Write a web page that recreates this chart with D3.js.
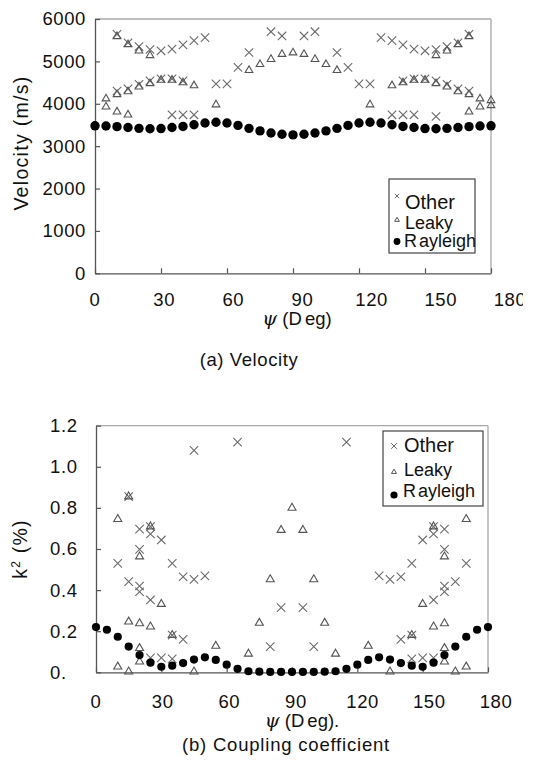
<!DOCTYPE html>
<html><head><meta charset="utf-8">
<script src="https://cdn.jsdelivr.net/npm/d3@7"></script>
<style>
body{margin:0;background:#fff;}
svg text{font-family:"Liberation Sans",Arial,sans-serif;fill:#111;}
</style></head><body>
<svg id="c" width="536" height="768"></svg>
<script>
// ---------- data ----------
const angles = [0,5,10,15,20,25,30,35,40,45,50,55,60,65,70,75,80,85,90,95,100,105,110,115,120,125,130,135,140,145,150,155,160,165,170,175,180];
const xTickValues = [0,30,60,90,120,150,180];
const velTicks = [0,1000,2000,3000,4000,5000,6000];
const k2Ticks = [0,0.2,0.4,0.6,0.8,1.0,1.2];

// (a) velocity, m/s
const velRayleigh = [3480,3475,3460,3440,3420,3410,3415,3440,3465,3505,3545,3565,3545,3490,3420,3360,3310,3280,3265,3280,3310,3360,3420,3490,3545,3565,3545,3505,3465,3440,3415,3410,3420,3440,3460,3475,3480];
const velOther = [
 [10,5640],[15,5440],[20,5350],[25,5280],[30,5250],[35,5290],[40,5390],[45,5490],[50,5560],
 [10,4300],[15,4350],[20,4460],[25,4540],[30,4590],[35,4590],[40,4540],
 [35,3740],[40,3740],[45,3740],
 [55,4470],[60,4470],[65,4860],[70,5210],[80,5700],[85,5600],
 [95,5600],[100,5700],[110,5210],[115,4860],[120,4470],[125,4470],
 [130,5560],[135,5490],[140,5390],[145,5290],[150,5250],[155,5280],[160,5350],[165,5440],[170,5640],
 [140,4540],[145,4590],[150,4590],[155,4540],[160,4460],[165,4350],[170,4300],
 [135,3740],[140,3740],[145,3740],[155,3700]
];
const velLeaky = [
 [5,4120],[5,3930],[10,5590],[10,4220],[10,3810],[15,5400],[15,4290],[15,3740],[20,5250],[20,4400],
 [25,5140],[25,4480],[30,4560],[35,4560],[40,4500],[45,4430],[55,3980],
 [70,4790],[75,4930],[80,5050],[85,5170],[90,5205],[95,5170],[100,5050],[105,4930],[110,4790],
 [125,3980],[135,4430],[140,4500],[145,4560],[150,4560],[155,4480],[155,5140],[160,4400],[160,5250],
 [165,4290],[165,5400],[170,4220],[170,5590],[170,3810],[175,4120],[175,3930],[180,4080],[180,3960]
];

// (b) coupling coefficient k^2, %
const k2Rayleigh = [0.220,0.207,0.173,0.125,0.084,0.047,0.027,0.032,0.045,0.062,0.073,0.060,0.037,0.017,0.005,0.003,0.002,0.002,0.002,0.002,0.002,0.003,0.005,0.017,0.037,0.060,0.073,0.062,0.045,0.032,0.027,0.047,0.084,0.125,0.173,0.207,0.220];
const k2Other = [
 [10,0.530],[15,0.855],[15,0.441],[20,0.697],[20,0.598],[20,0.420],[20,0.392],
 [25,0.709],[25,0.673],[25,0.352],[25,0.070],[30,0.644],[30,0.070],[35,0.530],[35,0.181],[35,0.065],
 [40,0.465],[40,0.160],[45,1.080],[45,0.452],[50,0.469],[65,1.120],[80,0.125],[85,0.315],
 [95,0.315],[100,0.125],[115,1.120],[130,0.469],[135,1.080],[135,0.452],[140,0.465],[140,0.160],
 [145,0.530],[145,0.181],[145,0.065],[150,0.644],[150,0.070],[155,0.709],[155,0.673],[155,0.352],[155,0.070],
 [160,0.697],[160,0.598],[160,0.420],[160,0.392],[165,0.855],[165,0.441],[170,0.530]
];
const k2Leaky = [
 [10,0.745],[10,0.027],[15,0.855],[15,0.246],[15,0.003],[20,0.563],[20,0.238],[20,0.117],[20,0.052],
 [25,0.709],[25,0.222],[30,0.332],[35,0.181],[45,0.003],[55,0.128],[70,0.090],[75,0.240],[80,0.452],[85,0.692],[90,0.800],
 [95,0.692],[100,0.452],[105,0.240],[110,0.090],[125,0.128],[135,0.003],[145,0.181],[150,0.332],[155,0.709],[155,0.222],
 [160,0.563],[160,0.238],[160,0.117],[160,0.052],[165,0.855],[165,0.003],[170,0.745],[170,0.027]
];

// ---------- drawing ----------
const svg = d3.select("#c");
const axisCol = "#555", frameCol = "#a8a8a8", markCol = "#6a6a6a";
const xSym = d3.symbol().type(d3.symbolX);
const tSym = d3.symbol().type(d3.symbolTriangle2);

function panel(o) {
  const g = svg.append("g");
  const [x0, x1] = o.x.range(), [y0, y1] = o.y.range();
  g.append("line").attr("x1", x0).attr("x2", x1).attr("y1", y1).attr("y2", y1).attr("stroke", frameCol).attr("stroke-width", 1.3);
  g.append("line").attr("x1", x1).attr("x2", x1).attr("y1", y1).attr("y2", y0).attr("stroke", frameCol).attr("stroke-width", 1.3);
  const ax = g.append("g").attr("transform", `translate(0,${y0})`)
    .call(d3.axisBottom(o.x).tickValues(xTickValues).tickSize(-5).tickSizeOuter(0).tickFormat(""));
  const ay = g.append("g").attr("transform", `translate(${x0},0)`)
    .call(d3.axisLeft(o.y).tickValues(o.yTicks).tickSize(-5).tickSizeOuter(0).tickPadding(o.yPad).tickFormat(o.yFmt));
  [ax, ay].forEach(a => {
    a.select(".domain").attr("stroke", axisCol).attr("stroke-width", 1.3);
    a.selectAll(".tick line").attr("stroke", axisCol).attr("stroke-width", 1.2);
  });
  ay.selectAll(".tick text").attr("font-size", 18.5).attr("fill", "#111")
    .attr("font-family", '"Liberation Sans",Arial,sans-serif').attr("letter-spacing", 0.6);
  if (o.yAnchorStart) ay.selectAll(".tick text").attr("text-anchor", "start").attr("x", o.yLabelX - x0);
  const xg = g.append("g").attr("clip-path", o.clip ? `url(#${o.clip})` : null);
  xg.selectAll("text.xl").data(xTickValues).join("text").attr("class", "xl")
    .attr("x", d => o.xl(d)).attr("y", o.xLabelY).attr("text-anchor", "middle")
    .attr("font-size", 18.5).attr("letter-spacing", 0.6).text(d => d);

  g.append("g").selectAll("path").data(o.other).join("path")
    .attr("transform", d => `translate(${o.x(d[0])},${o.y(d[1])})`)
    .attr("d", xSym.size(o.xSize)).attr("fill", "none").attr("stroke", markCol).attr("stroke-width", 1.1);
  g.append("g").selectAll("path").data(o.leaky).join("path")
    .attr("transform", d => `translate(${o.x(d[0])},${o.y(d[1])})`)
    .attr("d", tSym.size(o.tSize)).attr("fill", "none").attr("stroke", "#555").attr("stroke-width", 1.1);
  g.append("g").selectAll("circle").data(o.rayleigh).join("circle")
    .attr("cx", (d, i) => o.x(angles[i])).attr("cy", d => o.y(d)).attr("r", o.r).attr("fill", "#000");

  const L = o.legend;
  const lg = g.append("g");
  lg.append("rect").attr("x", L.x).attr("y", L.y).attr("width", L.w).attr("height", L.h)
    .attr("fill", "#fff").attr("stroke", "#444").attr("stroke-width", 1.2);
  lg.append("path").attr("transform", `translate(${L.sx},${L.oy})`).attr("d", xSym.size(L.xs))
    .attr("fill", "none").attr("stroke", markCol).attr("stroke-width", 1);
  lg.append("path").attr("transform", `translate(${L.sx},${L.ly})`).attr("d", tSym.size(L.ts))
    .attr("fill", "none").attr("stroke", "#555").attr("stroke-width", 1);
  lg.append("circle").attr("cx", L.sx).attr("cy", L.ry).attr("r", L.rr).attr("fill", "#000");
  lg.append("text").attr("x", L.tx).attr("y", L.ob).attr("font-size", 20).text("Other");
  lg.append("text").attr("x", L.tx).attr("y", L.lb).attr("font-size", 18).text("Leaky");
  const rt = lg.append("text").attr("x", L.tx - 1).attr("y", L.rb).attr("font-size", 18);
  rt.append("tspan").text("R");
  rt.append("tspan").attr("dx", 2).text("ayleigh");

  const xt = g.append("text").attr("x", o.xTitleX).attr("y", o.xTitleY).attr("text-anchor", "middle").attr("font-size", 18.5);
  xt.append("tspan").attr("font-style", "italic").attr("font-family", '"DejaVu Serif",serif').attr("font-size", 19).text("ψ");
  xt.append("tspan").text(" (D");
  xt.append("tspan").attr("dx", 3).text(o.xTitleTail);
  return g;
}

svg.append("defs").append("clipPath").attr("id", "clipTop")
  .append("rect").attr("x", 0).attr("y", 0).attr("width", 523).attr("height", 380);

// (a) Velocity
const xA = d3.scaleLinear().domain([0, 180]).range([95, 491]);
const yA = d3.scaleLinear().domain([0, 6000]).range([273.3, 19]);
const xAl = d3.scaleLinear().domain([0, 180]).range([95, 510]);
panel({
  x: xA, y: yA, xl: xAl, yTicks: velTicks, yPad: 9, yFmt: d3.format("d"),
  xLabelY: 305.5, clip: "clipTop",
  other: velOther, leaky: velLeaky, rayleigh: velRayleigh,
  xSize: 48, tSize: 42, r: 4.7,
  legend: {x: 389, y: 179, w: 86, h: 74, sx: 397, oy: 196, ly: 220, ry: 241.5, xs: 14, ts: 16, rr: 3.4,
           tx: 405, ob: 209, lb: 229, rb: 247},
  xTitleX: 297, xTitleY: 325, xTitleTail: "eg)"
});
svg.append("text").attr("transform", "translate(28,143) rotate(-90)").attr("text-anchor", "middle")
  .attr("font-size", 19.5).attr("letter-spacing", 1.3).text("Velocity (m/s)");
svg.append("text").attr("x", 249).attr("y", 366).attr("text-anchor", "middle")
  .attr("font-size", 18.5).attr("letter-spacing", 0.6).text("(a) Velocity");

// (b) Coupling coefficient
const xB = d3.scaleLinear().domain([0, 180]).range([96, 488]);
const yB = d3.scaleLinear().domain([0, 1.2]).range([672.3, 425.7]);
const xBl = d3.scaleLinear().domain([0, 180]).range([96, 496]);
panel({
  x: xB, y: yB, xl: xBl, yTicks: k2Ticks, yPad: 9, yFmt: d => d === 0 ? "0." : d3.format(".1f")(d),
  yAnchorStart: true, yLabelX: 50,
  xLabelY: 708,
  other: k2Other, leaky: k2Leaky, rayleigh: k2Rayleigh,
  xSize: 48, tSize: 46, r: 4.1,
  legend: {x: 383, y: 431, w: 100, h: 75, sx: 394, oy: 446, ly: 472, ry: 495, xs: 22, ts: 18, rr: 3.6,
           tx: 404, ob: 452, lb: 476, rb: 497},
  xTitleX: 302, xTitleY: 727, xTitleTail: "eg)."
});
const kt = svg.append("text").attr("transform", "translate(27,549) rotate(-90)").attr("text-anchor", "middle")
  .attr("font-size", 19.5).attr("letter-spacing", 1.2);
kt.append("tspan").text("k");
kt.append("tspan").attr("font-size", 12).attr("dy", -7).text("2");
kt.append("tspan").attr("dy", 7).text(" (%)");
svg.append("text").attr("x", 286).attr("y", 751).attr("text-anchor", "middle")
  .attr("font-size", 18.5).attr("letter-spacing", 0.8).text("(b) Coupling coefficient");
</script>
</body></html>
